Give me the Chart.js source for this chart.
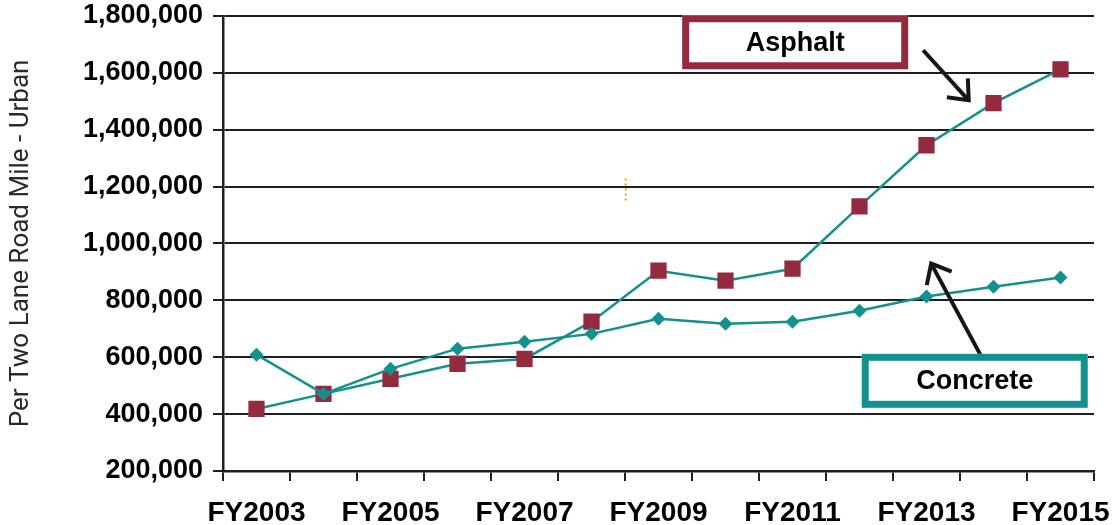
<!DOCTYPE html>
<html>
<head>
<meta charset="utf-8">
<script src="https://cdn.jsdelivr.net/npm/chart.js@4/dist/chart.umd.min.js"></script>
<style>
  html, body { margin: 0; padding: 0; background: #fff; }
  #wrap { width: 1118px; height: 525px; }
</style>
</head>
<body>
<div id="wrap"><canvas id="costchart" width="1118" height="525"></canvas></div>
<script>
const categories = ['FY2003', 'FY2004', 'FY2005', 'FY2006', 'FY2007', 'FY2008', 'FY2009',
                    'FY2010', 'FY2011', 'FY2012', 'FY2013', 'FY2014', 'FY2015'];
const asphaltCost = [418000, 471000, 524000, 577000, 594000, 725000, 904000,
                     869000, 911000, 1130000, 1345000, 1493000, 1612000];
const concreteCost = [609000, 471000, 559000, 630000, 654000, 682000, 735000,
                      718000, 725000, 763000, 813000, 848000, 880000];
const yTicks = [200000, 400000, 600000, 800000, 1000000, 1200000, 1400000, 1600000, 1800000];

const teal = '#13918f';
const maroon = '#932a3e';
const ink = '#1e1e1e';

// callout boxes and arrows, anchored in data coordinates (category index, value)
const callouts = [
    { text: 'Asphalt', x: 8.04, y: 1707000, w: 226, h: 54, color: maroon },
    { text: 'Concrete', x: 10.72, y: 517000, w: 226, h: 54, color: teal }
];
const arrows = [
    { from: [9.95, 1679000], to: [10.63, 1503000] },
    { from: [10.87, 580000], to: [10.07, 929000] }
];

const annotate = {
    id: 'annotate',
    afterDraw: chart => {
        const ctx = chart.ctx;
        const xs = chart.scales.x, ys = chart.scales.y;
        ctx.save();

        // little orange dotted mark
        const mx = xs.getPixelForValue(5.51);
        ctx.strokeStyle = '#f0a20c';
        ctx.lineWidth = 2;
        ctx.setLineDash([2, 3]);
        ctx.beginPath();
        ctx.moveTo(mx, ys.getPixelForValue(1228000));
        ctx.lineTo(mx, ys.getPixelForValue(1143000));
        ctx.stroke();
        ctx.setLineDash([]);

        // arrows
        ctx.strokeStyle = '#161616';
        ctx.lineWidth = 4;
        ctx.lineCap = 'butt';
        arrows.forEach(a => {
            const x0 = xs.getPixelForValue(a.from[0]), y0 = ys.getPixelForValue(a.from[1]);
            const x1 = xs.getPixelForValue(a.to[0]), y1 = ys.getPixelForValue(a.to[1]);
            const ang = Math.atan2(y0 - y1, x0 - x1);
            const head = 22, spread = 40 * Math.PI / 180;
            ctx.beginPath();
            ctx.moveTo(x0, y0);
            ctx.lineTo(x1, y1);
            ctx.stroke();
            ctx.beginPath();
            ctx.moveTo(x1 + head * Math.cos(ang - spread), y1 + head * Math.sin(ang - spread));
            ctx.lineTo(x1, y1);
            ctx.lineTo(x1 + head * Math.cos(ang + spread), y1 + head * Math.sin(ang + spread));
            ctx.stroke();
        });

        // boxes
        callouts.forEach(c => {
            const cx = xs.getPixelForValue(c.x), cy = ys.getPixelForValue(c.y);
            const bw = 7;
            ctx.fillStyle = '#fff';
            ctx.fillRect(cx - c.w / 2, cy - c.h / 2, c.w, c.h);
            ctx.strokeStyle = c.color;
            ctx.lineWidth = bw;
            ctx.strokeRect(cx - c.w / 2 + bw / 2, cy - c.h / 2 + bw / 2, c.w - bw, c.h - bw);
            ctx.fillStyle = '#000';
            ctx.font = 'bold 27px "Liberation Sans", Arial, sans-serif';
            ctx.textAlign = 'center';
            ctx.textBaseline = 'middle';
            ctx.fillText(c.text, cx, cy + 1);
        });
        ctx.restore();
    }
};

const ctx = document.getElementById('costchart').getContext('2d');
const chart = new Chart(ctx, {
    type: 'line',
    plugins: [annotate],
    data: {
        labels: categories,
        datasets: [
            {
                label: 'Concrete',
                data: concreteCost,
                borderColor: teal,
                borderWidth: 2.5,
                pointStyle: 'rectRot',
                pointRadius: 7,
                pointBackgroundColor: teal,
                pointBorderColor: teal,
                pointBorderWidth: 0,
                tension: 0,
                fill: false
            },
            {
                label: 'Asphalt',
                data: asphaltCost,
                borderColor: teal,
                borderWidth: 2.5,
                pointStyle: 'rect',
                pointRadius: 11.5,
                pointBackgroundColor: maroon,
                pointBorderColor: maroon,
                pointBorderWidth: 0,
                tension: 0,
                fill: false
            }
        ]
    },
    options: {
        responsive: false,
        animation: false,
        layout: { padding: { left: 0, right: 24, top: 0, bottom: 0 } },
        plugins: {
            legend: { display: false },
            tooltip: { enabled: false },
            title: { display: false }
        },
        scales: {
            x: {
                offset: true,
                grid: {
                    offset: true,
                    drawOnChartArea: false,
                    drawTicks: true,
                    tickLength: 10,
                    color: ink,
                    lineWidth: 2
                },
                border: { display: true, color: ink, width: 2.5 },
                ticks: {
                    autoSkip: false,
                    maxRotation: 0,
                    padding: 15,
                    color: '#000',
                    font: { family: '"Liberation Sans", Arial, sans-serif', size: 28, weight: 'bold' },
                    callback: (v, i) => (i % 2 === 0 ? categories[i] : '')
                },
                afterFit: s => { s.height = 54; s.paddingRight = 0; s.paddingLeft = 0; }
            },
            y: {
                min: yTicks[0],
                max: yTicks[yTicks.length - 1],
                afterBuildTicks: s => { s.ticks = yTicks.map(v => ({ value: v })); },
                grid: {
                    drawOnChartArea: true,
                    drawTicks: true,
                    tickLength: 10,
                    color: ink,
                    lineWidth: 2
                },
                border: { display: true, color: ink, width: 2.5 },
                ticks: {
                    padding: 10,
                    color: '#000',
                    font: { family: '"Liberation Sans", Arial, sans-serif', size: 27, weight: 'bold', lineHeight: 0.43 },
                    callback: v => v.toLocaleString('en-US')
                },
                title: {
                    display: true,
                    text: 'Per Two Lane Road Mile - Urban',
                    color: '#2a2a2a',
                    padding: { top: 6, bottom: 0 },
                    font: { family: '"Liberation Sans Narrow", "Roboto", sans-serif', size: 26, weight: 'normal' }
                },
                afterFit: s => { s.width = 223; }
            }
        }
    }
});
</script>
</body>
</html>
